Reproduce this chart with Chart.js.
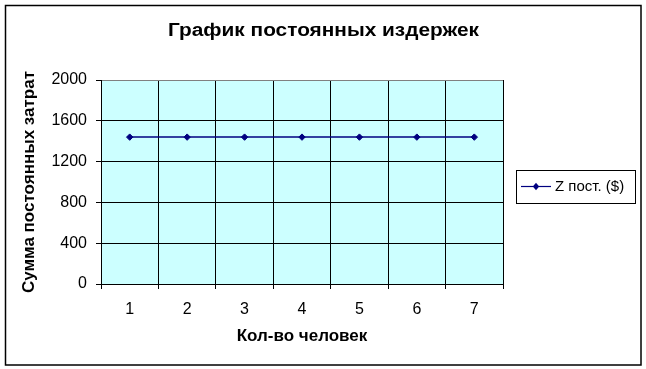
<!DOCTYPE html>
<html>
<head>
<meta charset="utf-8">
<script src="https://cdn.jsdelivr.net/npm/chart.js@4/dist/chart.umd.min.js"></script>
<style>
html,body{margin:0;padding:0;background:#fff;}
#wrap{position:relative;width:646px;height:369px;}
canvas{display:block;}
</style>
</head>
<body>
<div id="wrap"><canvas id="c" width="646" height="369"></canvas></div>
<script>
const categories = ['1', '2', '3', '4', '5', '6', '7'];
const fixedCosts = [1440, 1440, 1440, 1440, 1440, 1440, 1440];
const yTicks = [0, 400, 800, 1200, 1600, 2000];
const seriesLabel = 'Z пост. ($)';
const chartTitle = 'График постоянных издержек';
const xTitle = 'Кол-во человек';
const yTitle = 'Сумма постоянных затрат';

const FONT = "'Liberation Sans', Arial, sans-serif";
const NARROW = "'Liberation Sans Narrow', 'Arial Narrow', 'Liberation Sans', Arial, sans-serif";
const NAVY = '#000080';

const frame = {
  id: 'frame',
  beforeDraw(chart) {
    const {ctx, chartArea: a} = chart;
    ctx.save();
    ctx.fillStyle = '#ffffff';
    ctx.fillRect(0, 0, chart.width, chart.height);
    ctx.fillStyle = '#CCFFFF';
    ctx.fillRect(a.left, a.top, a.right - a.left, a.bottom - a.top);
    ctx.strokeStyle = '#000';
    ctx.lineWidth = 1.5;
    ctx.strokeRect(5.5, 5.5, 635.5, 359.5);
    ctx.restore();
  },
  afterDraw(chart) {
    const {ctx} = chart;
    const ds = chart.data.datasets[0];
    ctx.save();
    // main title (stretched to the reference width)
    ctx.fillStyle = '#000';
    ctx.font = 'bold 18px ' + FONT;
    ctx.textBaseline = 'middle';
    ctx.textAlign = 'center';
    const w = ctx.measureText(chartTitle).width;
    const sx = 311 / w;
    ctx.save();
    ctx.translate(323.5, 31);
    ctx.scale(sx, 1);
    ctx.fillText(chartTitle, 0, 0);
    ctx.restore();
    // legend
    ctx.strokeStyle = '#000';
    ctx.lineWidth = 1;
    ctx.strokeRect(516.5, 170.5, 119, 33);
    const cy = 186.5;
    ctx.strokeStyle = ds.borderColor;
    ctx.lineWidth = 1.2;
    ctx.beginPath();
    ctx.moveTo(521, cy);
    ctx.lineTo(551, cy);
    ctx.stroke();
    ctx.fillStyle = ds.pointBackgroundColor;
    ctx.beginPath();
    ctx.moveTo(536, cy - 3.8);
    ctx.lineTo(539.2, cy);
    ctx.lineTo(536, cy + 3.8);
    ctx.lineTo(532.8, cy);
    ctx.closePath();
    ctx.fill();
    ctx.fillStyle = '#000';
    ctx.font = '15px ' + FONT;
    ctx.textBaseline = 'middle';
    ctx.textAlign = 'left';
    ctx.fillText(ds.label, 555, cy);
    ctx.restore();
  }
};

new Chart(document.getElementById('c'), {
  type: 'line',
  data: {
    labels: categories,
    datasets: [{
      label: seriesLabel,
      data: fixedCosts,
      borderColor: NAVY,
      backgroundColor: NAVY,
      pointBackgroundColor: NAVY,
      pointBorderColor: NAVY,
      borderWidth: 1.5,
      pointStyle: 'rectRot',
      pointRadius: 3.2,
      pointBorderWidth: 1,
      tension: 0
    }]
  },
  options: {
    responsive: false,
    animation: false,
    devicePixelRatio: 1,
    layout: {padding: {left: 0, right: 143, top: 80, bottom: 0}},
    plugins: {
      legend: {display: false},
      tooltip: {enabled: false},
      title: {display: false}
    },
    scales: {
      x: {
        type: 'category',
        offset: true,
        grid: {
          offset: true,
          color: (c) => c.index === categories.length ? '#808080' : '#000',
          lineWidth: 1,
          tickLength: 5,
          tickColor: '#000'
        },
        border: {color: '#000', width: 1},
        ticks: {color: '#000', font: {family: NARROW, size: 16}, padding: 11, maxRotation: 0},
        title: {
          display: true,
          text: xTitle,
          color: '#000',
          font: {family: FONT, size: 17, weight: 'bold'},
          padding: {top: 0, bottom: 22}
        },
        afterFit(scale) { scale.height = 85; }
      },
      y: {
        min: 0,
        max: 2000,
        afterBuildTicks(scale) { scale.ticks = yTicks.map(v => ({value: v})); },
        grid: {
          color: (c) => (c.tick && c.tick.value === 2000) ? '#808080' : '#000',
          lineWidth: 1,
          tickLength: 5,
          tickColor: '#000'
        },
        border: {color: '#000', width: 1},
        ticks: {
          color: '#000',
          font: {family: NARROW, size: 16},
          padding: 9,
          callback: (v) => String(v)
        },
        title: {
          display: true,
          text: yTitle,
          color: '#000',
          font: {family: FONT, size: 17, weight: 'bold'},
          padding: {top: 19, bottom: 0}
        },
        afterFit(scale) { scale.width = 101; }
      }
    }
  },
  plugins: [frame]
});
</script>
</body>
</html>
